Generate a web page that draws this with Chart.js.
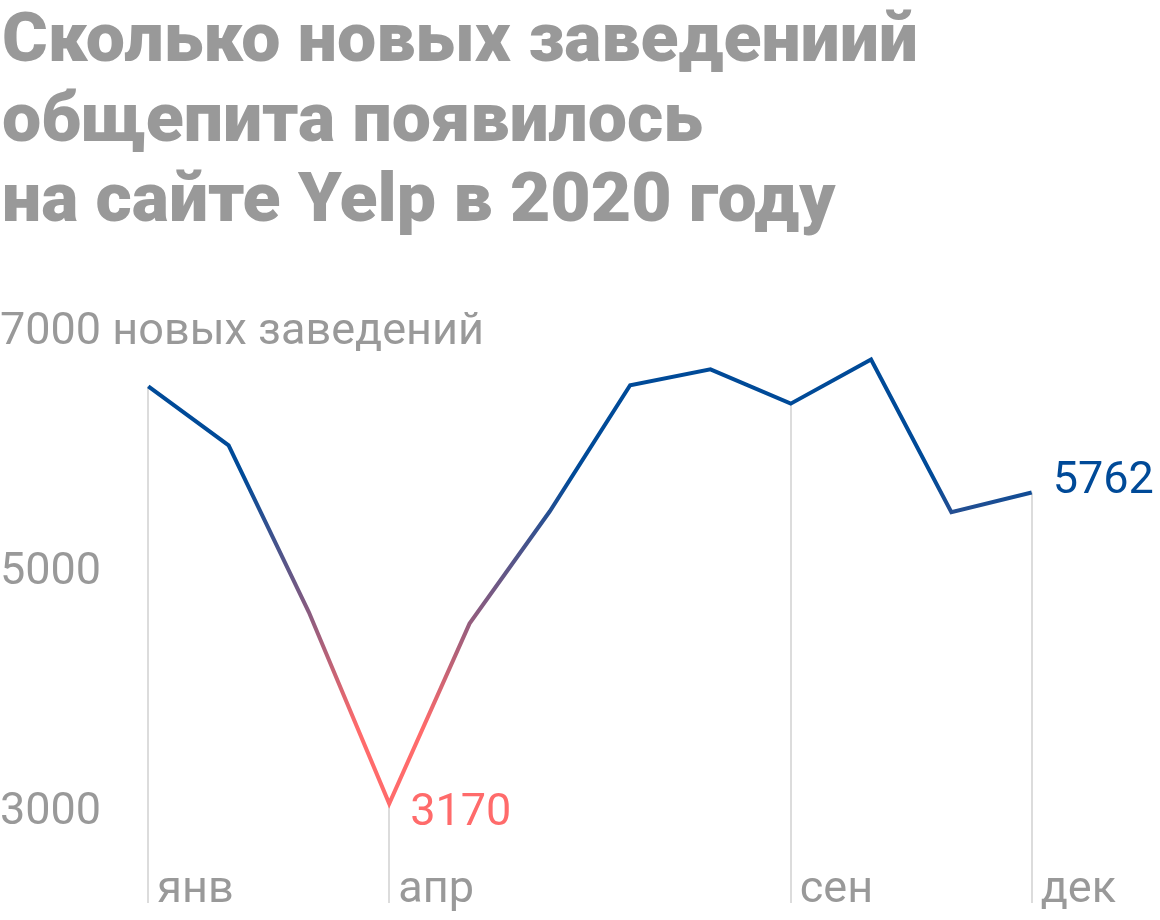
<!DOCTYPE html>
<html>
<head>
<meta charset="utf-8">
<script src="https://cdn.jsdelivr.net/npm/chart.js@4/dist/chart.umd.min.js"></script>
<style>
    body { margin: 0; background: #fff; }
    #chart { position: absolute; left: 0; top: 0; }
    #title {
        position: absolute; left: 2px; top: -2px;
        font-family: Roboto, sans-serif; font-weight: 900; font-size: 68px;
        line-height: 80px; color: #999; white-space: nowrap;
        transform-origin: 0 0;
    }
    #title span { display: block; width: max-content; }
</style>
</head>
<body>
<canvas id="chart" width="1160" height="920"></canvas>
<div id="title">
    <span>Сколько новых заведениий</span>
    <span>общепита появилось</span>
    <span>на сайте Yelp в 2020 году</span>
</div>
<script>
const months = ["янв", "фев", "мар", "апр", "май", "июн", "июл", "авг", "сен", "окт", "ноя", "дек"];
const counts = [6647, 6156, 4764, 3170, 4670, 5606, 6656, 6789, 6503, 6870, 5598, 5762];
const labeledMonths = [0, 3, 8, 11];
const yTicks = [3000, 5000, 7000];

const BLUE = "#004a98";
const RED = "#ff6b6b";
const GREY = "#999";

// squeeze the title so it has the width of a condensed heading
const fitTitle = () => {
    const title = document.getElementById("title");
    const first = title.firstElementChild.getBoundingClientRect().width;
    title.style.transform = `scaleX(${916 / first})`;
};

const lineGradient = (context) => {
    const { chart } = context;
    if (!chart.chartArea) return BLUE;
    const y = chart.scales.y;
    const g = chart.ctx.createLinearGradient(0, y.getPixelForValue(5900), 0, y.getPixelForValue(3800));
    g.addColorStop(0, BLUE);
    g.addColorStop(1, RED);
    return g;
};

// thin vertical lines from the point down to the month label
const monthLines = {
    id: "monthLines",
    beforeDatasetsDraw(chart) {
        const { ctx, scales } = chart;
        ctx.save();
        ctx.strokeStyle = "#dcdcdc";
        ctx.lineWidth = 2;
        labeledMonths.forEach((i) => {
            const x = Math.round(scales.x.getPixelForValue(i));
            ctx.beginPath();
            ctx.moveTo(x, scales.y.getPixelForValue(counts[i]));
            ctx.lineTo(x, scales.x.bottom - 17);
            ctx.stroke();
        });
        ctx.restore();
    },
};

// value labels at the minimum and at the last month
const valueLabels = {
    id: "valueLabels",
    afterDatasetsDraw(chart) {
        const { ctx, scales } = chart;
        const minIdx = counts.indexOf(Math.min(...counts));
        const lastIdx = counts.length - 1;
        ctx.save();
        ctx.font = "45px Roboto";
        ctx.textAlign = "left";
        ctx.textBaseline = "alphabetic";
        ctx.fillStyle = RED;
        ctx.fillText(String(counts[minIdx]), scales.x.getPixelForValue(minIdx) + 21, scales.y.getPixelForValue(counts[minIdx]) + 21);
        ctx.fillStyle = BLUE;
        ctx.fillText(String(counts[lastIdx]), scales.x.getPixelForValue(lastIdx) + 21, scales.y.getPixelForValue(counts[lastIdx]));
        ctx.restore();
    },
};

window.addEventListener("load", () => {
    fitTitle();

    const ctx = document.getElementById("chart").getContext("2d");
    new Chart(ctx, {
        type: "line",
        data: {
            datasets: [
                {
                    label: "Новые заведения",
                    data: counts.map((v, i) => ({ x: i, y: v })),
                    borderColor: lineGradient,
                    borderWidth: 4,
                    borderJoinStyle: "miter",
                    pointRadius: 0,
                    tension: 0,
                    fill: false,
                },
            ],
        },
        options: {
            responsive: false,
            animation: false,
            layout: { padding: { top: 344, bottom: 0, left: 0, right: 0 } },
            plugins: {
                legend: { display: false },
                tooltip: { enabled: false },
            },
            scales: {
                x: {
                    type: "linear",
                    min: -1.8466,
                    max: 12.598,
                    grid: { display: false, drawTicks: false },
                    border: { display: false },
                    afterBuildTicks: (scale) => {
                        scale.ticks = labeledMonths.map((v) => ({ value: v }));
                    },
                    afterFit: (scale) => {
                        scale.height = 60;
                    },
                    ticks: {
                        align: "start",
                        labelOffset: 9,
                        padding: 8,
                        color: GREY,
                        font: { family: "Roboto", size: 45, lineHeight: 1 },
                        callback: (v) => months[v],
                    },
                },
                y: {
                    min: 2700,
                    max: 7000,
                    grid: { display: false, drawTicks: false },
                    border: { display: false },
                    afterBuildTicks: (scale) => {
                        scale.ticks = yTicks.map((v) => ({ value: v }));
                    },
                    afterFit: (scale) => {
                        scale.width = 0;
                    },
                    ticks: {
                        mirror: true,
                        padding: 0,
                        labelOffset: -11,
                        color: GREY,
                        font: { family: "Roboto", size: 45, lineHeight: 1 },
                        callback: (v) => (v === 7000 ? "7000 новых заведений" : String(v)),
                    },
                },
            },
        },
        plugins: [monthLines, valueLabels],
    });
});
</script>
</body>
</html>
